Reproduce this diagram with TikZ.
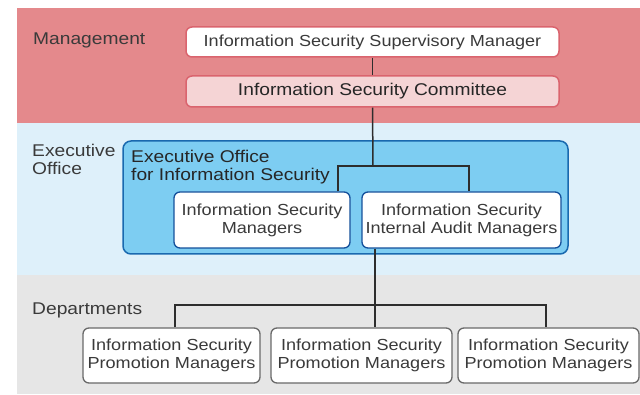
\documentclass[tikz,border=0pt]{standalone}
\usepackage{fontspec}
\setmainfont[FakeStretch=1.13]{Liberation Sans}
\definecolor{bandpink}{RGB}{228,137,140}
\definecolor{bandblue}{RGB}{222,240,250}
\definecolor{bandgray}{RGB}{230,230,230}
\definecolor{pinkline}{RGB}{218,100,110}
\definecolor{pinkfill}{RGB}{245,212,213}
\definecolor{bluefill}{RGB}{125,205,242}
\definecolor{blueline}{RGB}{25,105,175}
\definecolor{innerline}{RGB}{20,80,155}
\definecolor{grayline}{RGB}{105,105,105}
\definecolor{txtgray}{RGB}{58,58,58}
\definecolor{conn}{RGB}{45,45,45}
\begin{document}
\begin{tikzpicture}[x=1pt,y=-1pt,
  txtn/.style={text=txtgray, font=\fontsize{16}{18}\selectfont},
  txtl/.style={text=txtgray, font=\fontsize{17}{18}\selectfont, inner sep=0pt},
  box/.style={rounded corners=6pt, inner sep=0pt, align=center, line width=1.3pt, txtn},
  pinkbox/.style={box, draw=pinkline, fill=white, line width=1.5pt},
  combox/.style={box, draw=pinkline, fill=pinkfill, line width=1.5pt, font=\fontsize{17}{18}\selectfont, text=black!85},
  bluebox/.style={rounded corners=8pt, draw=blueline, fill=bluefill, line width=1.5pt, inner sep=0pt},
  innerbox/.style={box, draw=innerline, fill=white},
  deptbox/.style={box, draw=grayline, fill=white},
  link/.style={draw=conn, line width=1.5pt}
]
\useasboundingbox (0,0) rectangle (640,395);
% bands
\fill[white] (0,0) rectangle (640,395);
\fill[bandpink] (17,8) rectangle (640,123);
\fill[bandblue] (17,123) rectangle (640,275);
\fill[bandgray] (17,275) rectangle (640,394);

% labels
\node[txtl, anchor=base west] (lbMan) at (33,45) {Management};
\node[txtl, anchor=base west] (lbEx1) at (32,157) {Executive};
\node[txtl, anchor=base west] (lbEx2) at (32,175) {Office};
\node[txtl, anchor=base west] (lbDep) at (32,315) {Departments};

% management boxes
\node[pinkbox, minimum width=373pt, minimum height=30pt] (sup) at (372.5,42) {Information Security Supervisory Manager};
\node[combox, minimum width=373pt, minimum height=31pt] (com) at (372.5,91.5) {Information Security Committee};

% executive office
\node[bluebox, minimum width=445pt, minimum height=113pt] (exo) at (345.5,197.5) {};
\node[txtl, text=black!85, anchor=base west] (exoT1) at (131,163) {Executive Office};
\node[txtl, text=black!85, anchor=base west] (exoT2) at (131,181) {for Information Security};
\node[innerbox, minimum width=176pt, minimum height=56pt] (mgr) at (262,220) {Information Security\\Managers};
\node[innerbox, minimum width=199pt, minimum height=56pt] (aud) at (461.5,220) {Information Security\\Internal Audit Managers};

% departments
\node[deptbox, minimum width=177pt, minimum height=55pt] (d1) at (171.5,355.5) {Information Security\\Promotion Managers};
\node[deptbox, minimum width=181pt, minimum height=55pt] (d2) at (361.5,355.5) {Information Security\\Promotion Managers};
\node[deptbox, minimum width=181pt, minimum height=55pt] (d3) at (548.5,355.5) {Information Security\\Promotion Managers};

% connectors
\coordinate (j1) at (373,166);
\coordinate (j1L) at (338,166);
\coordinate (j1R) at (469,166);
\coordinate (j2) at (375,305);
\coordinate (j2L) at (175,305);
\coordinate (j2R) at (546,305);

\draw[link] (sup.south) -- (com.north);
\draw[link] (com.south) -- (j1);
\draw[link] (j1L |- mgr.north) -- (j1L) -- (j1R) -- (j1R |- aud.north);
\draw[link] (j2 |- aud.south) -- (j2 |- d2.north);
\draw[link] (j2L |- d1.north) -- (j2L) -- (j2R) -- (j2R |- d3.north);
\end{tikzpicture}
\end{document}
